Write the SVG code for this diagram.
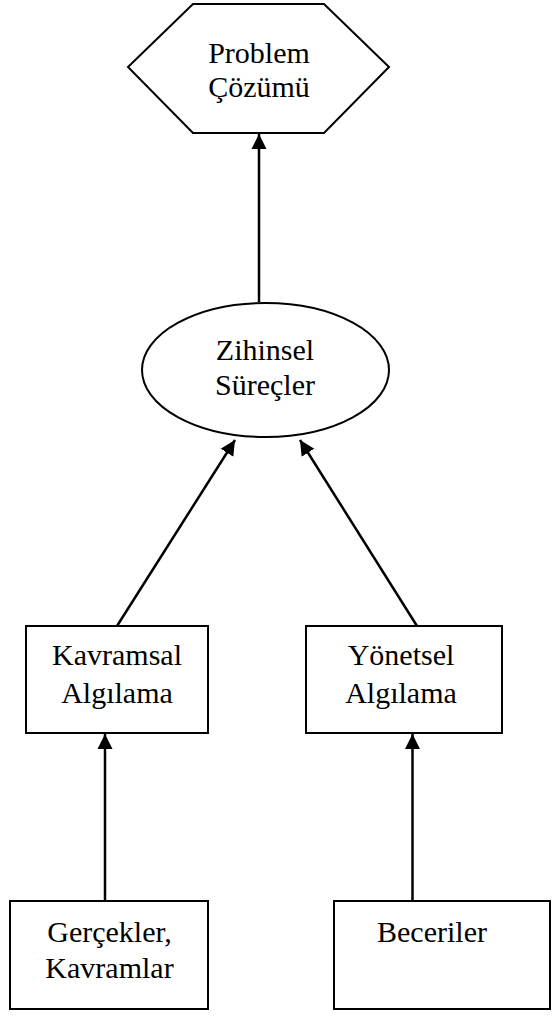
<svg xmlns="http://www.w3.org/2000/svg" width="552" height="1016" viewBox="0 0 552 1016">
  <style>
    .shape { fill: #ffffff; stroke: #000000; stroke-width: 2; }
    .label { font-family: "Liberation Serif", "Times New Roman", serif; font-size: 30px; fill: #000000; text-anchor: middle; }
    .edge { fill: none; stroke: #000000; stroke-width: 2.5; }
  </style>
  <defs>
    <marker id="arrow" markerUnits="userSpaceOnUse" markerWidth="16" markerHeight="16" viewBox="0 0 16 16" refX="15" refY="8" orient="auto">
      <path d="M0,0.5 L15,8 L0,15.5 Z" fill="#000000"/>
    </marker>
  </defs>

  <rect width="552" height="1016" fill="#ffffff"/>

  <!-- connectors -->
  <g id="connectors">
    <line class="edge" x1="259" y1="302" x2="259" y2="134" marker-end="url(#arrow)"/>
    <line class="edge" x1="117" y1="626" x2="235" y2="440" marker-end="url(#arrow)"/>
    <line class="edge" x1="417" y1="626" x2="300" y2="440" marker-end="url(#arrow)"/>
    <line class="edge" x1="105" y1="901" x2="105" y2="734" marker-end="url(#arrow)"/>
    <line class="edge" x1="412.5" y1="901" x2="412.5" y2="734" marker-end="url(#arrow)"/>
  </g>

  <!-- nodes -->
  <g id="problem-cozumu">
    <polygon class="shape" points="193,4 324,4 389,67 324,133 193,133 128,67"/>
    <text class="label" x="259" y="63">Problem</text>
    <text class="label" x="259" y="97">Çözümü</text>
  </g>

  <g id="zihinsel-surecler">
    <ellipse class="shape" cx="265.5" cy="370" rx="123.5" ry="67"/>
    <text class="label" x="265" y="360">Zihinsel</text>
    <text class="label" x="265" y="395">Süreçler</text>
  </g>

  <g id="kavramsal-algilama">
    <rect class="shape" x="26" y="626" width="182" height="107"/>
    <text class="label" x="117" y="665">Kavramsal</text>
    <text class="label" x="117" y="703">Algılama</text>
  </g>

  <g id="yonetsel-algilama">
    <rect class="shape" x="306" y="626" width="196" height="107"/>
    <text class="label" x="401" y="665">Yönetsel</text>
    <text class="label" x="401" y="703">Algılama</text>
  </g>

  <g id="gercekler-kavramlar">
    <rect class="shape" x="10" y="901" width="198" height="108"/>
    <text class="label" x="109.5" y="942">Gerçekler,</text>
    <text class="label" x="109.5" y="978">Kavramlar</text>
  </g>

  <g id="beceriler">
    <rect class="shape" x="334" y="901" width="216" height="108"/>
    <text class="label" x="432" y="942">Beceriler</text>
  </g>
</svg>
